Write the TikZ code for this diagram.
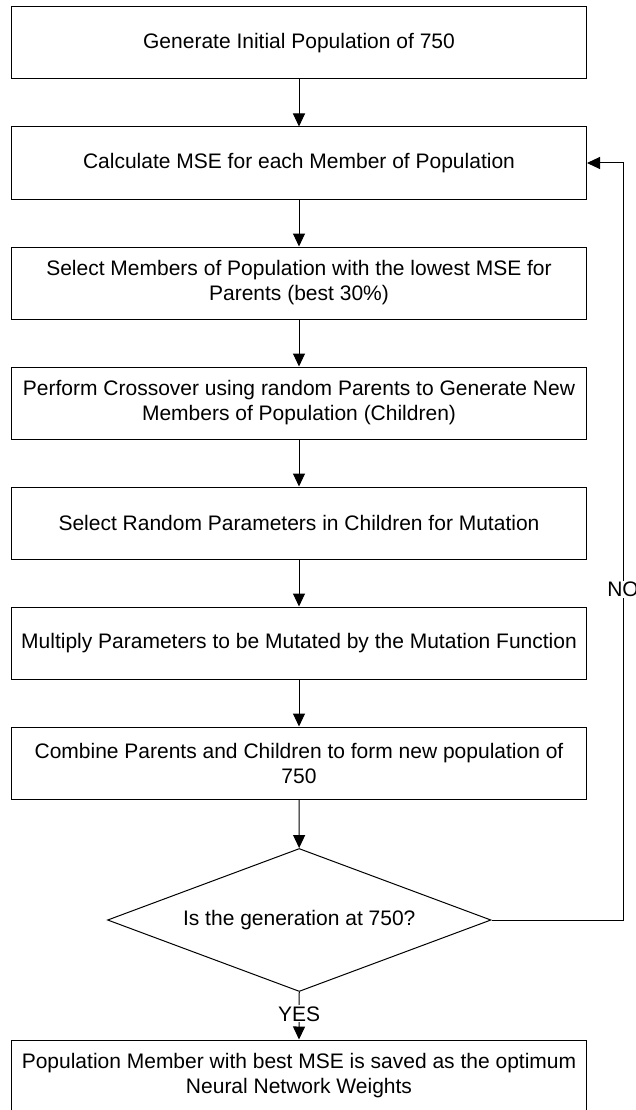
\documentclass[tikz,border=0pt]{standalone}
\usepackage{fontspec}
\setmainfont{Liberation Sans}
\usetikzlibrary{arrows.meta,shapes.geometric}
\begin{document}
\begin{tikzpicture}[x=1pt,y=-1pt,
  txt/.style={font=\fontsize{21}{25}\selectfont},
  stepbox/.style={txt, draw=black, line width=1pt, minimum width=575pt,
    minimum height=72pt, inner sep=0pt, align=center},
  decision/.style={txt, draw=black, diamond, line width=1pt, shape aspect=2.68,
    minimum width=383.5pt, minimum height=143pt, inner sep=0pt},
  flow/.style={draw=black, line width=1pt, -{Triangle[length=13pt,width=12pt]}},
  lbl/.style={txt, fill=white, inner sep=1pt}]
\useasboundingbox (0,0) rectangle (636,1110);

\node[stepbox] (b1) at (299,43) {Generate Initial Population of 750};
\node[stepbox] (b2) at (299,163) {Calculate MSE for each Member of Population};
\node[stepbox] (b3) at (299,283) {Select Members of Population with the lowest MSE for\\Parents (best 30\%)};
\node[stepbox] (b4) at (299,403) {Perform Crossover using random Parents to Generate New\\Members of Population (Children)};
\node[stepbox] (b5) at (299,523) {Select Random Parameters in Children for Mutation};
\node[stepbox] (b6) at (299,643) {Multiply Parameters to be Mutated by the Mutation Function};
\node[stepbox] (b7) at (299,763) {Combine Parents and Children to form new population of\\750};
\node[decision] (d) at (299.25,920) {Is the generation at 750?};
\node[stepbox] (b8) at (299,1076) {Population Member with best MSE is saved as the optimum\\Neural Network Weights};

\coordinate (loopB) at (623,920);
\coordinate (loopT) at (623,163);

\draw[flow] (b1) -- (b2);
\draw[flow] (b2) -- (b3);
\draw[flow] (b3) -- (b4);
\draw[flow] (b4) -- (b5);
\draw[flow] (b5) -- (b6);
\draw[flow] (b6) -- (b7);
\draw[flow] (b7) -- (d);
\draw[flow] (d.south) -- node[lbl, pos=0.46] {YES} (b8.north);
\draw[flow] (d.east) -- (loopB) -- node[lbl, pos=0.437] {NO} (loopT) -- (b2.east);
\end{tikzpicture}
\end{document}
